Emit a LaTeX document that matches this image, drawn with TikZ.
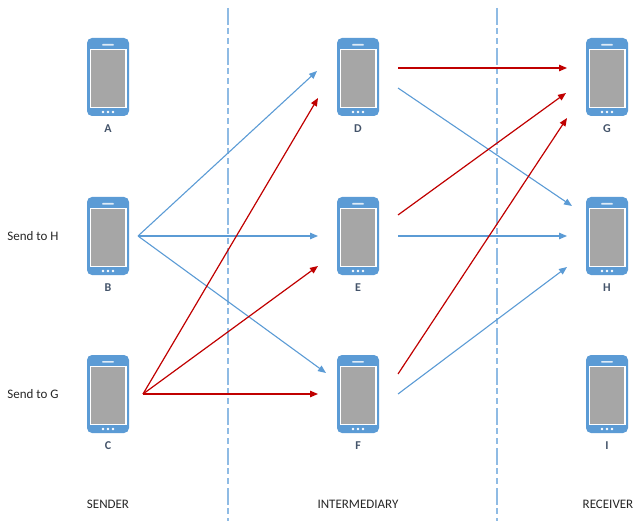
\documentclass[tikz,border=0pt]{standalone}
\usepackage{fontspec}
\setmainfont{Carlito}
\usetikzlibrary{arrows.meta,calc}
\definecolor{phblue}{HTML}{5B9BD5}
\definecolor{scrgray}{HTML}{A6A6A6}
\definecolor{lblcol}{HTML}{44546A}
\definecolor{arrred}{HTML}{C00000}
\definecolor{divcol}{HTML}{8FBBE4}
\begin{document}
\begin{tikzpicture}[x=1pt,y=-1pt,
  phone/.style={rectangle,rounded corners=5pt,fill=phblue,minimum width=42pt,minimum height=78pt,inner sep=0pt},
  lbl/.style={font=\fontsize{12}{14}\selectfont\bfseries,text=lblcol,inner sep=0pt},
  side/.style={font=\fontsize{13}{15}\selectfont,text=black!85,inner sep=0pt},
  barr/.style={draw=phblue,line width=1.1pt,-{Triangle[length=8pt,width=6.5pt]}},
  rarr/.style={draw=arrred,line width=1.2pt,-{Triangle[length=8pt,width=6.5pt]}},
  divider/.style={draw=divcol,line width=1.4pt,dash pattern=on 17pt off 3pt on 6pt off 4pt on 6pt off 4pt}]
\useasboundingbox (0,0) rectangle (634,521);

% dividers
\coordinate (d1t) at (228,8);  \coordinate (d1b) at (228,521);
\coordinate (d2t) at (497,8);  \coordinate (d2b) at (497,521);
\draw[divider] (d1t) -- (d1b);
\draw[divider] (d2t) -- (d2b);

% phones
\node[phone] (A) at (108,77) {};
\node[phone] (B) at (108,236) {};
\node[phone] (C) at (108,394) {};
\node[phone] (D) at (358,77) {};
\node[phone] (E) at (358,236) {};
\node[phone] (F) at (358,394) {};
\node[phone] (G) at (607,77) {};
\node[phone] (H) at (607,236) {};
\node[phone] (I) at (607,394) {};

\foreach \n in {A,B,C,D,E,F,G,H,I}{
  \fill[white] ($(\n)+(-18.5,-28)$) rectangle ($(\n)+(18.5,31)$);
  \fill[scrgray] ($(\n)+(-17.2,-26.7)$) rectangle ($(\n)+(17.2,29.7)$);
  \fill[white!80!phblue,rounded corners=0.8pt] ($(\n)+(-6,-33)$) rectangle ($(\n)+(6,-31.3)$);
  \foreach \dx in {-5,0,5} \fill[white] ($(\n)+(\dx,35)$) circle (1.3);
}

% letter labels
\foreach \n in {A,B,C,D,E,F,G,H,I}{
  \node[lbl] (l\n) at ($(\n)+(0,52)$) {\n};
}

% side labels
\node[side] (sH) at (33,236) {Send to H};
\node[side] (sG) at (33,394) {Send to G};

% bottom labels
\node[side] (snd) at (108,504) {SENDER};
\node[side] (mid) at (358,504) {INTERMEDIARY};
\node[side] (rcv) at (608,504) {RECEIVER};

% ports
\coordinate (Bout) at ($(B)+(30,0)$);
\coordinate (Cout) at ($(C)+(35,0)$);
\coordinate (Dinb) at ($(D)+(-41,-6)$);
\coordinate (Dinr) at ($(D)+(-40,21)$);
\coordinate (Einb) at ($(E)+(-40,0)$);
\coordinate (Einr) at ($(E)+(-40,30)$);
\coordinate (Finb) at ($(F)+(-32,-21)$);
\coordinate (Finr) at ($(F)+(-40,0)$);
\coordinate (Doutr) at ($(D)+(40,-9)$);
\coordinate (Doutb) at ($(D)+(40,11)$);
\coordinate (Eoutr) at ($(E)+(40,-21)$);
\coordinate (Eoutb) at ($(E)+(40,0)$);
\coordinate (Foutr) at ($(F)+(40,-20)$);
\coordinate (Foutb) at ($(F)+(40,0)$);
\coordinate (GinD) at ($(G)+(-40,-9)$);
\coordinate (GinE) at ($(G)+(-41,16)$);
\coordinate (GinF) at ($(G)+(-40,41)$);
\coordinate (HinD) at ($(H)+(-35,-30)$);
\coordinate (HinE) at ($(H)+(-40,0)$);
\coordinate (HinF) at ($(H)+(-40,31)$);

% blue arrows
\draw[barr] (Bout) -- (Dinb);
\draw[barr] (Bout) -- (Einb);
\draw[barr] (Bout) -- (Finb);
\draw[barr] (Doutb) -- (HinD);
\draw[barr] (Eoutb) -- (HinE);
\draw[barr] (Foutb) -- (HinF);

% red arrows
\draw[rarr] (Cout) -- (Dinr);
\draw[rarr] (Cout) -- (Einr);
\draw[rarr] (Cout) -- (Finr);
\draw[rarr] (Doutr) -- (GinD);
\draw[rarr] (Eoutr) -- (GinE);
\draw[rarr] (Foutr) -- (GinF);
\end{tikzpicture}
\end{document}
